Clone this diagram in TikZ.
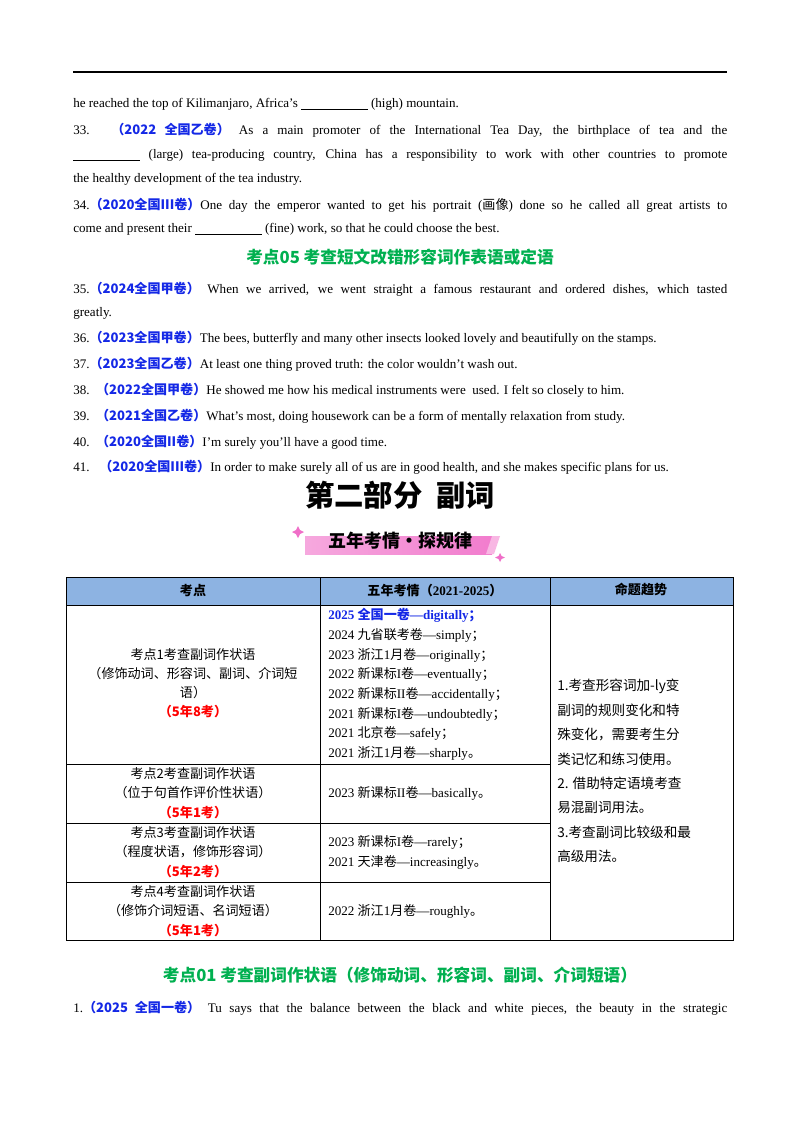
\documentclass[tikz,border=0pt]{standalone}
\usepackage{fontspec}
\setmainfont{Liberation Serif}
\newfontfamily\zh{Noto Sans CJK SC}
\usetikzlibrary{shapes.geometric}
\definecolor{labc}{RGB}{20,40,230}
\definecolor{grn}{RGB}{0,176,80}
\definecolor{hdr}{RGB}{141,179,226}
\definecolor{pnk}{RGB}{240,110,200}
\newcommand\lab[1]{{\zh\bfseries\color{labc}#1}}
\newcommand\red[1]{{\zh\bfseries\color{red}#1}}
\newcommand\blank{\underline{\hspace{50pt}}}
\newlength\tw \setlength\tw{490.5pt}
\begin{document}
\begin{tikzpicture}[x=0.75pt,y=-0.75pt,
  ln/.style={anchor=west,inner sep=0pt,font=\fontsize{9.8}{12}\selectfont},
  cc/.style={anchor=center,inner sep=0pt,align=center,font=\fontsize{9.8}{14.5}\selectfont},
  cl/.style={anchor=north west,inner sep=0pt,align=left,font=\fontsize{9.8}{14.8}\selectfont},
  head/.style={anchor=center,inner sep=0pt,font=\zh\bfseries\fontsize{12.5}{15}\selectfont\color{grn}}]
\useasboundingbox (0,0) rectangle (800,1132);
\fill[white] (0,0) rectangle (800,1132);
\coordinate (r1) at (73,72); \coordinate (r2) at (727,72);
\draw[line width=1pt] (r1) -- (r2);
\node[ln] (a1) at (73,104) {he reached the top of Kilimanjaro, Africa’s \blank\ (high) mountain.};
\node[ln] (a2) at (73,130) {\makebox[\tw][s]{33. \lab{（2022 全国乙卷）} As a main promoter of the International Tea Day, the birthplace of tea and the}};
\node[ln] (a3) at (73,155) {\makebox[\tw][s]{\blank\ (large) tea-producing country, China has a responsibility to work with other countries to promote}};
\node[ln] (a4) at (73,179) {the healthy development of the tea industry.};
\node[ln] (a5) at (73,205) {\makebox[\tw][s]{34.\lab{（2020全国III卷）}One day the emperor wanted to get his portrait ({\zh 画像}) done so he called all great artists to}};
\node[ln] (a6) at (73,229) {come and present their \blank\ (fine) work, so that he could choose the best.};
\node[head] (h1) at (400,257) {考点05\ 考查短文改错形容词作表语或定语};
\node[ln] (b1) at (73,289) {\makebox[\tw][s]{35.\lab{（2024全国甲卷）} When we arrived, we went straight a famous restaurant and ordered dishes, which tasted}};
\node[ln] (b2) at (73,313) {greatly.};
\node[ln] (b3) at (73,338) {36.\lab{（2023全国甲卷）}The bees,\ butterfly and many other insects looked lovely and beautifully on the stamps.};
\node[ln] (b4) at (73,364) {37.\lab{（2023全国乙卷）}At least one thing proved truth: the color wouldn’t wash out.};
\node[ln] (b5) at (73,390) {38.\ \ \lab{（2022全国甲卷）}He showed me how his medical instruments were\ \ used. I felt so closely to him.};
\node[ln] (b6) at (73,416) {39.\ \ \lab{（2021全国乙卷）}What’s most, doing housework can be a form of mentally relaxation from study.};
\node[ln] (b7) at (73,442) {40.\ \ \lab{（2020全国II卷）}I’m surely you’ll have a good time.};
\node[ln] (b8) at (73,467) {41.\ \ \ \lab{（2020全国III卷）}In order to make surely all of us are in good health, and she makes specific plans for us.};
\node[anchor=center,inner sep=0pt,font=\zh\bfseries\fontsize{22}{26}\selectfont] (t1) at (400,495) {第二部分\ \ 副词};
% banner
\shade[left color=pnk!60,right color=pnk!90] (305,536) rectangle (492,554);
\fill[pnk!50] (492,536) -- (500,536) -- (494,554) -- (486,554) -- cycle;
\fill[pnk] (298,526) -- (300,530) -- (304,532) -- (300,534) -- (298,538) -- (296,534) -- (292,532) -- (296,530) -- cycle;
\fill[pnk] (500,553) -- (501.5,556) -- (505,557.5) -- (501.5,559) -- (500,562) -- (498.5,559) -- (495,557.5) -- (498.5,556) -- cycle;
\node[anchor=center,inner sep=0pt,font=\zh\bfseries\fontsize{13.5}{16}\selectfont] (t2) at (400,541) {五年考情·探规律};
% table
\fill[hdr] (66,577) rectangle (733,605);
\draw[line width=0.6pt] (66,577) rectangle (733,940);
\draw[line width=0.6pt] (66,605) -- (733,605);
\draw[line width=0.6pt] (320,577) -- (320,940) (550,577) -- (550,940);
\draw[line width=0.6pt] (66,764) -- (550,764) (66,823) -- (550,823) (66,882) -- (550,882);
\node[cc,font=\zh\bfseries\fontsize{9.8}{12}\selectfont] (th1) at (193,591) {考点};
\node[cc,font=\bfseries\fontsize{9.8}{12}\selectfont] (th2) at (435,591) {{\zh 五年考情（}2021-2025{\zh ）}};
\node[cc,font=\zh\bfseries\fontsize{9.8}{12}\selectfont] (th3) at (641,589) {命题趋势};
\node[cc,font=\zh\fontsize{9.8}{14.3}\selectfont] (c11) at (193,683) {考点1考查副词作状语\\（修饰动词、形容词、副词、介词短\\语）\\\red{（5年8考）}};
\node[cl] (c12) at (328,608) {{\bfseries\color{labc}2025 {\zh 全国一卷}—digitally{\zh ；}}\\
2024 {\zh 九省联考卷}—simply{\zh ；}\\
2023 {\zh 浙江}1{\zh 月卷}—originally{\zh ；}\\
2022 {\zh 新课标}I{\zh 卷}—eventually{\zh ；}\\
2022 {\zh 新课标}II{\zh 卷}—accidentally{\zh ；}\\
2021 {\zh 新课标}I{\zh 卷}—undoubtedly{\zh ；}\\
2021 {\zh 北京卷}—safely{\zh ；}\\
2021 {\zh 浙江}1{\zh 月卷}—sharply{\zh 。}};
\node[cc,font=\zh\fontsize{9.8}{14.5}\selectfont] (c21) at (193,793) {考点2考查副词作状语\\（位于句首作评价性状语）\\\red{（5年1考）}};
\node[cc,anchor=west,font=\fontsize{9.8}{12}\selectfont] (c22) at (328,793) {2023 {\zh 新课标}II{\zh 卷}—basically{\zh 。}};
\node[cc,font=\zh\fontsize{9.8}{14.5}\selectfont] (c31) at (193,852) {考点3考查副词作状语\\（程度状语，修饰形容词）\\\red{（5年2考）}};
\node[cl,anchor=west,font=\fontsize{9.8}{15}\selectfont] (c32) at (328,852) {2023 {\zh 新课标}I{\zh 卷}—rarely{\zh ；}\\2021 {\zh 天津卷}—increasingly{\zh 。}};
\node[cc,font=\zh\fontsize{9.8}{14.5}\selectfont] (c41) at (193,911) {考点4考查副词作状语\\（修饰介词短语、名词短语）\\\red{（5年1考）}};
\node[cc,anchor=west,font=\fontsize{9.8}{12}\selectfont] (c42) at (328,911) {2022 {\zh 浙江}1{\zh 月卷}—roughly{\zh 。}};
\node[cl,anchor=west,font=\zh\fontsize{10.2}{18.3}\selectfont] (c3) at (557,771) {1.考查形容词加-ly变\\副词的规则变化和特\\殊变化，需要考生分\\类记忆和练习使用。\\2. 借助特定语境考查\\易混副词用法。\\3.考查副词比较级和最\\高级用法。};
\node[head] (h2) at (400,975) {考点01\ 考查副词作状语（修饰动词、形容词、副词、介词短语）};
\node[ln] (d1) at (73,1008) {\makebox[\tw][s]{1.\lab{（2025 全国一卷）} Tu says that the balance between the black and white pieces, the beauty in the strategic}};
\end{tikzpicture}
\end{document}
